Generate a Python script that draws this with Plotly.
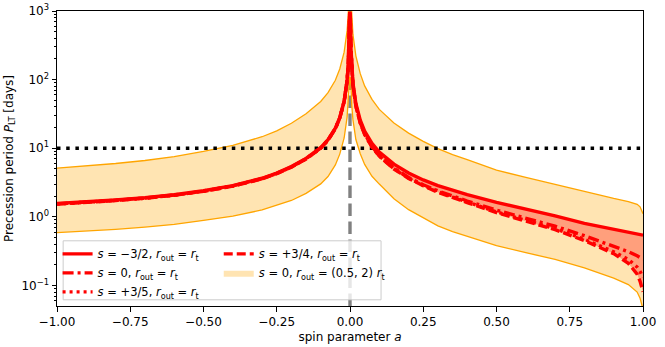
import plotly.graph_objects as go

# ---------------- data ----------------
spin = [-1.0, -0.95, -0.9, -0.8, -0.7, -0.6, -0.5, -0.4, -0.3, -0.25, -0.2, -0.15, -0.1,
        -0.075, -0.05, -0.035, -0.02, -0.01, -0.006, -0.003, -0.001,
        0.001, 0.003, 0.006, 0.01, 0.02, 0.035, 0.05, 0.075, 0.1, 0.15, 0.2, 0.25, 0.3,
        0.35, 0.4, 0.5, 0.6, 0.7, 0.8, 0.9, 0.95, 0.98, 0.99, 1.0]

# s = -3/2, r_out = r_t
p_s_m32 = [1.56, 1.60, 1.65, 1.76, 1.90, 2.10, 2.40, 2.85, 3.65, 4.35, 5.4, 7.1, 10.2,
           13.3, 19.6, 28.0, 48.5, 97, 162, 324, 970,
           900, 300, 150, 90, 45, 25.6, 17.8, 11.8, 8.8, 5.85, 4.35, 3.45, 2.85,
           2.42, 2.10, 1.62, 1.30, 1.03, 0.80, 0.65, 0.59, 0.56, 0.55, 0.54]
# s = 0, r_out = r_t
p_s_0 = [1.544, 1.584, 1.634, 1.742, 1.881, 2.079, 2.376, 2.822, 3.614, 4.307, 5.35, 7.03, 10.1,
         13.17, 19.4, 27.7, 48.0, 96.0, 160, 321, 960,
         846, 282, 141, 84.2, 41.9, 23.6, 16.2, 10.6, 7.83, 5.12, 3.74, 2.93, 2.39,
         2.01, 1.70, 1.25, 0.96, 0.73, 0.53, 0.37, 0.31, 0.27, 0.255, 0.24]
# s = +3/5, r_out = r_t
p_s_35 = [1.537, 1.576, 1.625, 1.734, 1.872, 2.069, 2.364, 2.807, 3.595, 4.285, 5.32, 6.99, 10.05,
          13.1, 19.3, 27.6, 47.8, 95.5, 160, 319, 955,
          837, 279, 140, 83.3, 41.4, 23.3, 16.0, 10.4, 7.70, 5.03, 3.68, 2.86, 2.32,
          1.94, 1.64, 1.18, 0.90, 0.67, 0.47, 0.31, 0.24, 0.185, 0.16, 0.13]
# s = +3/4, r_out = r_t
p_s_34 = [1.529, 1.568, 1.617, 1.725, 1.862, 2.058, 2.352, 2.793, 3.577, 4.263, 5.29, 6.96, 10.0,
          13.03, 19.2, 27.4, 47.5, 95.1, 159, 318, 951,
          833, 278, 139, 82.8, 41.2, 23.2, 15.9, 10.4, 7.66, 4.97, 3.63, 2.83, 2.28,
          1.90, 1.61, 1.15, 0.87, 0.65, 0.45, 0.29, 0.21, 0.146, 0.115, 0.081]
# s = 0, r_out = 2 r_t  (upper edge of band)
p_band_hi = [5.13, 5.30, 5.52, 5.99, 6.62, 7.55, 8.97, 11.0, 14.7, 17.9, 23.1, 31.7, 48.0,
             64.5, 97.9, 143, 251, 513, 864, 1727, 5176,
             4650, 1550, 775, 455, 222, 122, 81, 51.4, 36.8, 23.3, 16.6, 12.6, 9.85,
             8.05, 6.8, 4.8, 3.75, 2.95, 2.35, 1.85, 1.67, 1.52, 1.40, 1.11]
# s = 0, r_out = 0.5 r_t  (lower edge of band)
p_band_lo = [0.59, 0.605, 0.624, 0.658, 0.708, 0.775, 0.885, 1.02, 1.26, 1.46, 1.73, 2.20, 3.02,
             3.87, 5.7, 8.2, 14.1, 28.2, 47.1, 94, 110,
             105, 85, 42.3, 26.1, 13.4, 8.3, 5.8, 3.9, 3.0, 1.84, 1.27, 0.97, 0.74,
             0.61, 0.52, 0.38, 0.30, 0.24, 0.18, 0.128, 0.103, 0.08, 0.065, 0.045]

p_reference = 10.0  # horizontal reference line (days)

x_ticks = [-1.0, -0.75, -0.5, -0.25, 0.0, 0.25, 0.5, 0.75, 1.0]
y_ticks = [0.1, 1, 10, 100, 1000]
y_tick_text = ["10<sup>\u22121</sup>", "10<sup>0</sup>", "10<sup>1</sup>", "10<sup>2</sup>", "10<sup>3</sup>"]
y_minor = [m * 10 ** e for e in (-2, -1, 0, 1, 2) for m in range(2, 10)]

# ---------------- figure ----------------
FONT = "DejaVu Sans"
RED = "rgb(255,0,0)"
LW = 3.4

fig = go.Figure()

# orange band (r_out between 0.5 and 2 r_t)
fig.add_trace(go.Scatter(x=spin, y=p_band_lo, mode="lines", line=dict(width=0),
                         showlegend=False, hoverinfo="skip"))
fig.add_trace(go.Scatter(x=spin, y=p_band_hi, mode="lines", line=dict(width=0),
                         fill="tonexty", fillcolor="rgba(255,165,0,0.3)",
                         name="<i>s</i> = 0, <i>r</i><sub>out</sub> = (0.5, 2) <i>r</i><sub>t</sub>",
                         legend="legend2", legendrank=2))
fig.add_trace(go.Scatter(x=spin, y=p_band_lo, mode="lines", line=dict(color="orange", width=1.3),
                         showlegend=False, hoverinfo="skip"))
fig.add_trace(go.Scatter(x=spin, y=p_band_hi, mode="lines", line=dict(color="orange", width=1.3),
                         showlegend=False, hoverinfo="skip"))

# red shaded range between s = +3/4 and s = -3/2
fig.add_trace(go.Scatter(x=spin, y=p_s_34, mode="lines", line=dict(width=0),
                         showlegend=False, hoverinfo="skip"))
fig.add_trace(go.Scatter(x=spin, y=p_s_m32, mode="lines", line=dict(width=0),
                         fill="tonexty", fillcolor="rgba(255,0,0,0.3)",
                         showlegend=False, hoverinfo="skip"))

# black dotted reference line
fig.add_trace(go.Scatter(x=[x_ticks[0], x_ticks[-1]], y=[p_reference, p_reference], mode="lines",
                         line=dict(color="black", width=3.5, dash="3.5px,5.7px"),
                         showlegend=False, hoverinfo="skip"))

# red curves
fig.add_trace(go.Scatter(x=spin, y=p_s_m32, mode="lines", line=dict(color=RED, width=LW),
                         name="<i>s</i> = \u22123/2, <i>r</i><sub>out</sub> = <i>r</i><sub>t</sub>",
                         legend="legend", legendrank=1))
fig.add_trace(go.Scatter(x=spin, y=p_s_0, mode="lines",
                         line=dict(color=RED, width=LW, dash="11px,4px,3px,4px"),
                         name="<i>s</i> = 0, <i>r</i><sub>out</sub> = <i>r</i><sub>t</sub>",
                         legend="legend", legendrank=2))
fig.add_trace(go.Scatter(x=spin, y=p_s_35, mode="lines",
                         line=dict(color=RED, width=LW, dash="3px,4px"),
                         name="<i>s</i> = +3/5, <i>r</i><sub>out</sub> = <i>r</i><sub>t</sub>",
                         legend="legend", legendrank=3))
fig.add_trace(go.Scatter(x=spin, y=p_s_34, mode="lines",
                         line=dict(color=RED, width=LW, dash="9px,4px"),
                         name="<i>s</i> = +3/4, <i>r</i><sub>out</sub> = <i>r</i><sub>t</sub>",
                         legend="legend2", legendrank=1))

# gray dashed line at a = 0 (below traces)
fig.add_shape(type="line", xref="x", yref="paper", x0=0, x1=0, y0=0, y1=1, layer="below",
              line=dict(color="gray", width=3.4, dash="12.5px,5.5px"))

# legend frame (semi-transparent white)
fig.add_shape(type="rect", xref="paper", yref="paper", x0=0.0105, x1=0.553, y0=0.021, y1=0.221,
              layer="above", line=dict(color="rgb(204,204,204)", width=1),
              fillcolor="rgba(255,255,255,0.8)")

legend_common = dict(xanchor="left", yanchor="top", bgcolor="rgba(0,0,0,0)", borderwidth=0,
                     font=dict(family=FONT, size=11.5, color="black"), traceorder="normal",
                     itemwidth=30, tracegroupgap=0)

fig.update_layout(
    template="none",
    width=665, height=347,
    margin=dict(l=57, r=22, t=11, b=41),
    paper_bgcolor="white", plot_bgcolor="white",
    font=dict(family=FONT, size=12, color="black"),
    legend=dict(x=0.001, y=0.226, **legend_common),
    legend2=dict(x=0.276, y=0.226, **legend_common),
    xaxis=dict(range=[-1, 1], tickvals=x_ticks, tickformat=".2f", automargin=False,
               ticks="outside", ticklen=4.5, tickwidth=1, tickcolor="black",
               tickfont=dict(family=FONT, size=12),
               showline=True, linecolor="black", linewidth=1, mirror=True,
               showgrid=False, zeroline=False,
               title=dict(text="spin parameter <i>a</i>", standoff=4,
                          font=dict(family=FONT, size=12))),
    yaxis=dict(type="log", range=[-1.3, 3], tickvals=y_ticks, ticktext=y_tick_text,
               automargin=False, ticklabeloverflow="allow",
               ticks="outside", ticklen=4.5, tickwidth=1, tickcolor="black",
               tickfont=dict(family=FONT, size=12),
               minor=dict(tickvals=y_minor, ticks="outside", ticklen=2.5, tickwidth=0.8,
                          tickcolor="black", showgrid=False),
               showline=True, linecolor="black", linewidth=1, mirror=True,
               showgrid=False, zeroline=False,
               title=dict(text="Precession period <i>P</i><sub>LT</sub> [days]", standoff=5,
                          font=dict(family=FONT, size=12))),
)

# remove the default 8 px page margin so the figure fills the window exactly
fig.write_html("out.html", config={"displayModeBar": False},
               post_script="document.body.style.margin='0px';")
